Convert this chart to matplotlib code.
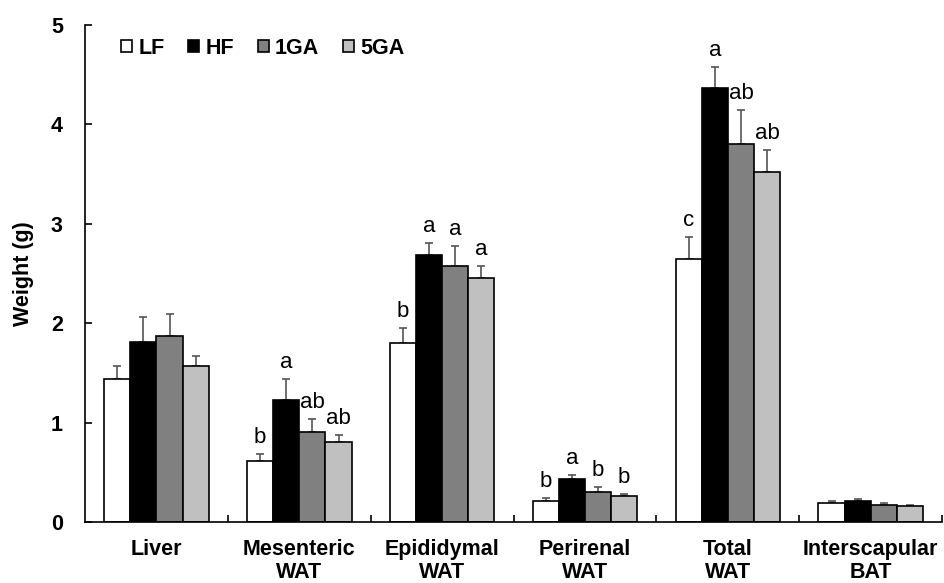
import numpy as np
import matplotlib.pyplot as plt

plt.rcParams['font.family'] = ['Liberation Sans', 'DejaVu Sans']

categories = ["Liver", "Mesenteric\nWAT", "Epididymal\nWAT", "Perirenal\nWAT", "Total\nWAT", "Interscapular\nBAT"]
groups = ["LF", "HF", "1GA", "5GA"]
colors = ["white", "black", "#808080", "#c0c0c0"]

# mean weights (g) per group, one value per category
lf = [1.44, 0.61, 1.80, 0.21, 2.65, 0.19]
hf = [1.81, 1.23, 2.69, 0.43, 4.37, 0.21]
ga1 = [1.87, 0.91, 2.58, 0.30, 3.80, 0.17]
ga5 = [1.57, 0.80, 2.45, 0.26, 3.52, 0.16]
means = [lf, hf, ga1, ga5]

# standard errors (upper only)
lf_se = [0.13, 0.07, 0.15, 0.03, 0.22, 0.02]
hf_se = [0.25, 0.21, 0.12, 0.04, 0.21, 0.02]
ga1_se = [0.22, 0.13, 0.20, 0.05, 0.35, 0.02]
ga5_se = [0.10, 0.08, 0.13, 0.02, 0.22, 0.01]
errors = [lf_se, hf_se, ga1_se, ga5_se]

# significance letters
letters = [
    ["", "b", "b", "b", "c", ""],
    ["", "a", "a", "a", "a", ""],
    ["", "ab", "a", "b", "ab", ""],
    ["", "ab", "a", "b", "ab", ""],
]

fig = plt.figure(figsize=(9.45, 5.83), dpi=100)
ax = fig.add_axes([0.09, 0.1046, 0.907, 0.8525])

x = np.arange(len(categories))
w = 0.183
for i in range(4):
    pos = x + (i - 1.5) * w
    ax.bar(pos, means[i], w, color=colors[i], edgecolor="black", linewidth=1.2,
           label=groups[i], zorder=2)
    ax.errorbar(pos, means[i], yerr=[np.zeros(len(x)), errors[i]], fmt="none",
                ecolor="#555555", elinewidth=1.2, capsize=3, capthick=1.2, zorder=1)
    for j in range(len(x)):
        if letters[i][j]:
            ax.text(pos[j], means[i][j] + errors[i][j] + 0.06, letters[i][j],
                    ha="center", va="bottom", fontsize=16)

ax.set_xlim(-0.5, 5.5)
ax.set_ylim(0, 5)
ax.spines["top"].set_visible(False)
ax.spines["right"].set_visible(False)
ax.spines["left"].set_linewidth(1.2)
ax.spines["bottom"].set_linewidth(1.2)

ax.set_yticks([0, 1, 2, 3, 4, 5])
ax.set_yticklabels(["0", "1", "2", "3", "4", "5"], fontsize=15.5, fontweight="bold")
ax.tick_params(axis="y", direction="in", length=5, width=1.2, pad=16)

ax.set_xticks(np.arange(0.5, 6, 1))
ax.set_xticklabels([])
ax.set_xticks(x, minor=True)
ax.set_xticklabels(categories, minor=True, fontsize=15.5, fontweight="bold", linespacing=1.15)
ax.tick_params(axis="x", which="major", direction="in", length=5, width=1.2)
ax.tick_params(axis="x", which="minor", length=0, pad=12)

ax.set_ylabel("Weight (g)", fontsize=15.5, fontweight="bold")
ax.yaxis.set_label_coords(-0.06, 0.5)

ax.legend(loc="upper left", bbox_to_anchor=(0.027, 1.0), ncol=4, frameon=False,
          prop={"weight": "bold", "size": 15.5}, handlelength=0.5, handleheight=0.5,
          handletextpad=0.3, columnspacing=1.1, borderaxespad=0.2)

fig.savefig("out.png", dpi=100)
